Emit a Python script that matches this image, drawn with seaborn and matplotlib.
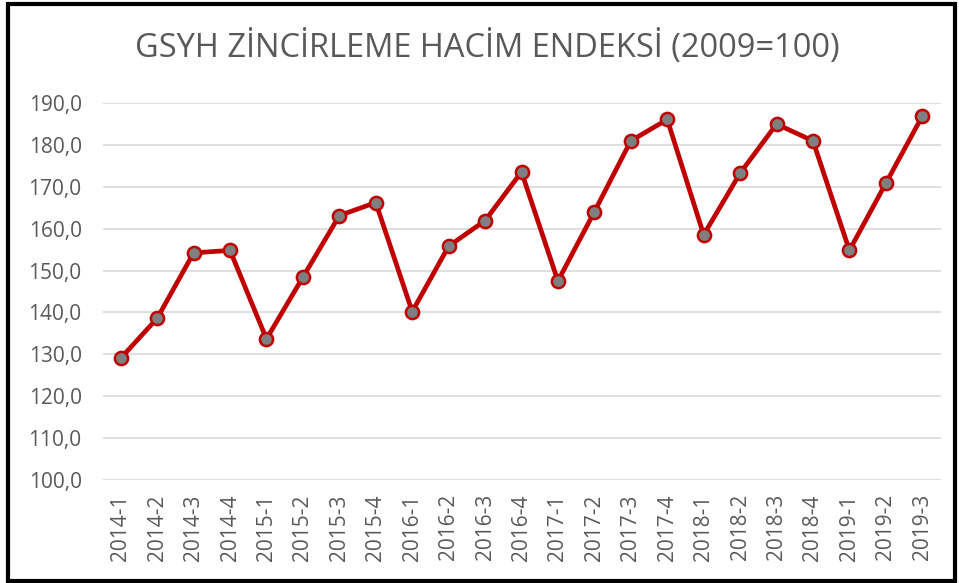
import matplotlib
matplotlib.use("Agg")
import matplotlib.pyplot as plt
import seaborn as sns
import pandas as pd
from matplotlib.patches import Rectangle

periods = ["2014-1", "2014-2", "2014-3", "2014-4",
           "2015-1", "2015-2", "2015-3", "2015-4",
           "2016-1", "2016-2", "2016-3", "2016-4",
           "2017-1", "2017-2", "2017-3", "2017-4",
           "2018-1", "2018-2", "2018-3", "2018-4",
           "2019-1", "2019-2", "2019-3"]
values = [129.1, 138.6, 154.2, 154.8,
          133.7, 148.4, 163.1, 166.2,
          140.2, 155.8, 161.9, 173.5,
          147.5, 164.0, 180.9, 186.0,
          158.5, 173.2, 184.9, 180.9,
          154.8, 170.8, 186.8]
y_ticks = [100, 110, 120, 130, 140, 150, 160, 170, 180, 190]
title = "GSYH ZİNCİRLEME HACİM ENDEKSİ (2009=100)"

sns.set_theme(style="white")
plt.rcParams['font.family'] = ['Open Sans', 'DejaVu Sans']

df = pd.DataFrame({"period": periods, "value": values})
df["idx"] = range(len(df))

fig = plt.figure(figsize=(9.59, 5.83), dpi=100)
ax = fig.add_axes([102.5 / 959, 1 - 480.3 / 583, (940.5 - 102.5) / 959, (480.3 - 102.7) / 583])

sns.lineplot(data=df, x="idx", y="value", ax=ax, color="#C00000", linewidth=3.4,
             marker="o", markersize=9.5, markerfacecolor="#7F7F7F",
             markeredgecolor="#C00000", markeredgewidth=1.8, zorder=3)

ax.set_xlim(-0.5, len(periods) - 0.5)
ax.set_ylim(100, 190)
ax.set_yticks(y_ticks)
ax.set_yticklabels([f"{v:.1f}".replace(".", ",") for v in y_ticks])
ax.set_xticks(range(len(periods)))
ax.set_xticklabels(periods, rotation=90)
ax.tick_params(axis="both", colors="#595959", labelsize=15, length=0)
ax.tick_params(axis="y", pad=15)
ax.tick_params(axis="x", pad=10)
ax.set_xlabel("")
ax.set_ylabel("")
ax.grid(axis="y", color="#D9D9D9", linewidth=1.2)
ax.grid(axis="x", visible=False)
for s in ax.spines.values():
    s.set_visible(False)

fig.text(487 / 959, 1 - 48 / 583, title, ha="center", va="center",
         fontsize=23.5, color="#595959")

fig.patches.append(Rectangle((8 / 959, 2 / 583), (955 - 8) / 959, (579 - 2) / 583,
                             transform=fig.transFigure, fill=False,
                             edgecolor="black", linewidth=3))

fig.savefig("out.png", dpi=100)
